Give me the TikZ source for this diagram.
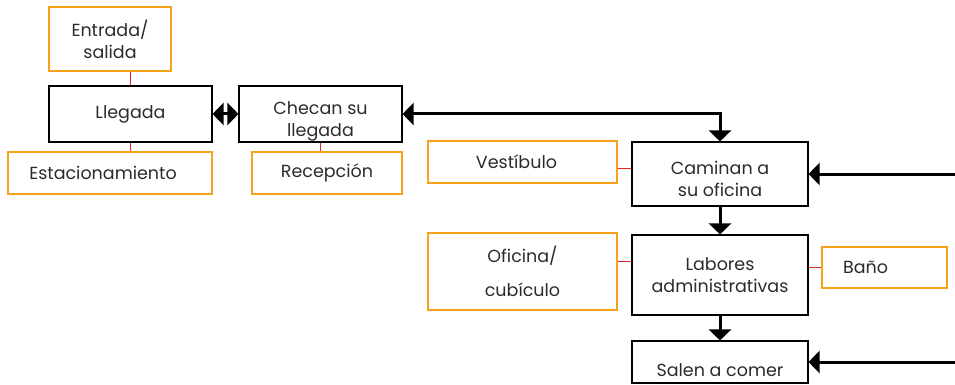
\documentclass[tikz,border=0pt]{standalone}
\usepackage{fontspec}
\setmainfont{Poppins}
\usetikzlibrary{positioning, arrows.meta}
\definecolor{naranja}{HTML}{F7A21B}
\definecolor{rojo}{HTML}{E8202A}
\definecolor{texto}{HTML}{2B2B2B}

\begin{document}
\begin{tikzpicture}[x=1pt, y=-1pt, font=\fontsize{17.5}{22}\selectfont, text=texto,
		caja/.style={draw=black, line width=1.1pt, align=center, inner sep=0pt},
		apoyo/.style={draw=naranja, line width=1.3pt, align=center, inner sep=0pt},
		enlace/.style={draw=rojo, line width=0.9pt},
		flecha/.style={-{Triangle[width=22pt,length=11pt]}, line width=3pt},
		doble/.style={{Triangle[width=22pt,length=11pt]}-{Triangle[width=22pt,length=11pt]}, line width=3pt}]
	\useasboundingbox (0,0) rectangle (955,385);
	% columna izquierda
	\node[apoyo, minimum width=122pt, minimum height=64pt] (ent) at (110,39) {Entrada/\\ salida};
	\node[caja, minimum width=163pt, minimum height=56pt] (lleg) at (130.5,114) {Llegada};
	\node[apoyo, minimum width=204pt, minimum height=42pt] (est) at (110,173) {Estacionamiento\hspace*{14pt}};
	\node[caja, minimum width=163pt, minimum height=56pt] (chec) at (320.5,114)
		{\raisebox{-11pt}[0pt][0pt]{\begin{tabular}{@{}c@{}}Checan su\\ llegada\end{tabular}}};
	\node[apoyo, minimum width=150pt, minimum height=42pt] (rec) at (327,173) {Recepción};
	% columna derecha
	\node[apoyo, minimum width=189pt, minimum height=42pt] (vest) at (522.5,162) {Vestíbulo\hspace*{12pt}};
	\node[caja, minimum width=176pt, minimum height=64pt] (cam) at (720,174)
		{\raisebox{-11pt}[0pt][0pt]{\begin{tabular}{@{}c@{}}Caminan a\\ su oficina\end{tabular}}};
	\node[apoyo, minimum width=189pt, minimum height=77pt] (ofi) at (522.5,271.5) {Oficina/\\[12pt] cubículo};
	\node[caja, minimum width=176pt, minimum height=80pt] (lab) at (720,275) {Labores\\ administrativas};
	\node[apoyo, minimum width=125pt, minimum height=41pt] (bano) at (884.5,267.5) {Baño\hspace*{38pt}};
	\node[caja, minimum width=176pt, minimum height=42pt] (sal) at (720,362) {\raisebox{-14pt}[0pt][0pt]{Salen a comer}};
	\coordinate (d1) at (955,174);
	\coordinate (d2) at (955,362);
	\coordinate (v1) at ([yshift=-6pt]vest.east);
	\coordinate (o1) at ([yshift=10.5pt]ofi.east);

	% uniones rojas
	\draw[enlace] (lleg.north) -- (lleg.north |- ent.south);
	\draw[enlace] (lleg.south) -- (lleg.south |- est.north);
	\draw[enlace] (chec.south) -- (chec.south |- rec.north);
	\draw[enlace] (v1) -- (v1 -| cam.west);
	\draw[enlace] (o1) -- (o1 -| lab.west);
	\draw[enlace] (bano.west) -- (bano.west -| lab.east);

	% flechas
	\draw[doble] (lleg.east) -- (chec.west);
	\draw[doble] (chec.east) -| (cam.north);
	\draw[flecha] (d1) -- (cam.east);
	\draw[flecha] (cam.south) -- (lab.north);
	\draw[flecha] (lab.south) -- (sal.north);
	\draw[flecha] (d2) -- (sal.east);
\end{tikzpicture}
\end{document}
